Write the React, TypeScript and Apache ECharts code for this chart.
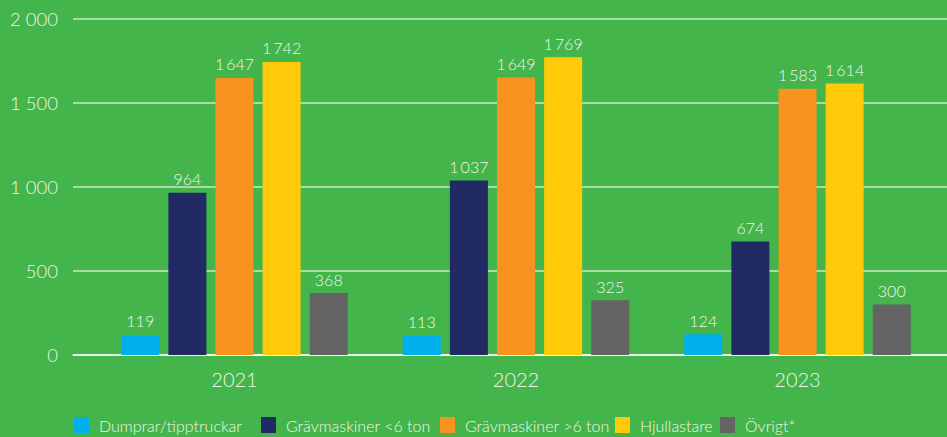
import React, { useEffect, useRef } from "react";
import * as echarts from "echarts";

const categories = ["2021", "2022", "2023"];
const seriesNames = ["Dumprar/tipptruckar", "Grävmaskiner <6 ton", "Grävmaskiner >6 ton", "Hjullastare", "Övrigt*"];
const dumprar = [119, 113, 124];
const gravSmall = [964, 1037, 674];
const gravLarge = [1647, 1649, 1583];
const hjullastare = [1742, 1769, 1614];
const ovrigt = [368, 325, 300];
const colors = ["#00b0ec", "#212a65", "#f7931e", "#ffcb08", "#646464"];

const fmt = (v: number) => {
  const s = String(Math.round(v));
  return s.length > 3 ? s.slice(0, s.length - 3) + "\u2009" + s.slice(-3) : s;
};
const fmtAxis = (v: number) => {
  const s = String(Math.round(v));
  return s.length > 3 ? s.slice(0, s.length - 3) + " " + s.slice(-3) : s;
};

const FONT = "Lato";
const W = 300;
const TEXT = "#f4f4ec";
// left positions of each legend item (matches reference spacing)
const legendLefts = [74, 261, 440, 615, 720];

export default function App() {
  const ref = useRef<HTMLDivElement>(null);
  useEffect(() => {
    document.body.style.margin = "0";
    const chart = echarts.init(ref.current!, null, { renderer: "svg" });
    const allData = [dumprar, gravSmall, gravLarge, hjullastare, ovrigt];
    chart.setOption({
      animation: false,
      backgroundColor: "#43b54b",
      textStyle: { fontFamily: FONT, fontWeight: W },
      grid: [
        { left: 93.75, right: 8.75, top: 18.5, height: 336.5 },
        { left: 73, right: 0, top: 18.5, height: 336.5 },
      ],
      legend: seriesNames.map((name, i) => ({
        left: legendLefts[i],
        top: 417,
        padding: 0,
        itemWidth: 15,
        itemHeight: 16,
        icon: "rect",
        textStyle: { color: TEXT, fontSize: 16, fontFamily: FONT, fontWeight: W, padding: [0, 0, 0, 5] },
        data: [name],
      })),
      xAxis: [
        {
          type: "category",
          gridIndex: 0,
          data: categories,
          axisLine: { show: false },
          axisTick: { show: false },
          axisLabel: { color: TEXT, fontSize: 20, fontFamily: FONT, fontWeight: W, margin: 14 },
        },
        {
          type: "category",
          gridIndex: 1,
          data: [""],
          axisLine: { show: true, lineStyle: { color: "#ffffff", width: 1.5 } },
          axisTick: { show: false },
          axisLabel: { show: false },
        },
      ],
      yAxis: [
        {
          type: "value",
          gridIndex: 0,
          min: 0,
          max: 2000,
          interval: 500,
          show: false,
          splitLine: { show: false },
        },
        {
          type: "value",
          gridIndex: 1,
          min: 0,
          max: 2000,
          interval: 500,
          axisLine: { show: false },
          axisTick: { show: false },
          axisLabel: { color: TEXT, fontSize: 18.5, fontFamily: FONT, fontWeight: W, margin: 15, formatter: fmtAxis },
          splitLine: { show: true, lineStyle: { color: "rgba(235,245,230,0.8)", width: 1.5 } },
        },
      ],
      series: seriesNames.map((name, i) => ({
        name,
        type: "bar",
        xAxisIndex: 0,
        yAxisIndex: 0,
        data: allData[i],
        barWidth: 38,
        barGap: "24%",
        itemStyle: { color: colors[i] },
        label: {
          show: true,
          position: "top",
          distance: 6,
          color: TEXT,
          fontSize: 16,
          fontFamily: FONT,
          fontWeight: W,
          formatter: (p: any) => fmt(p.value),
        },
      })),
    });
    return () => chart.dispose();
  }, []);
  return <div ref={ref} style={{ width: 947, height: 437 }} />;
}
